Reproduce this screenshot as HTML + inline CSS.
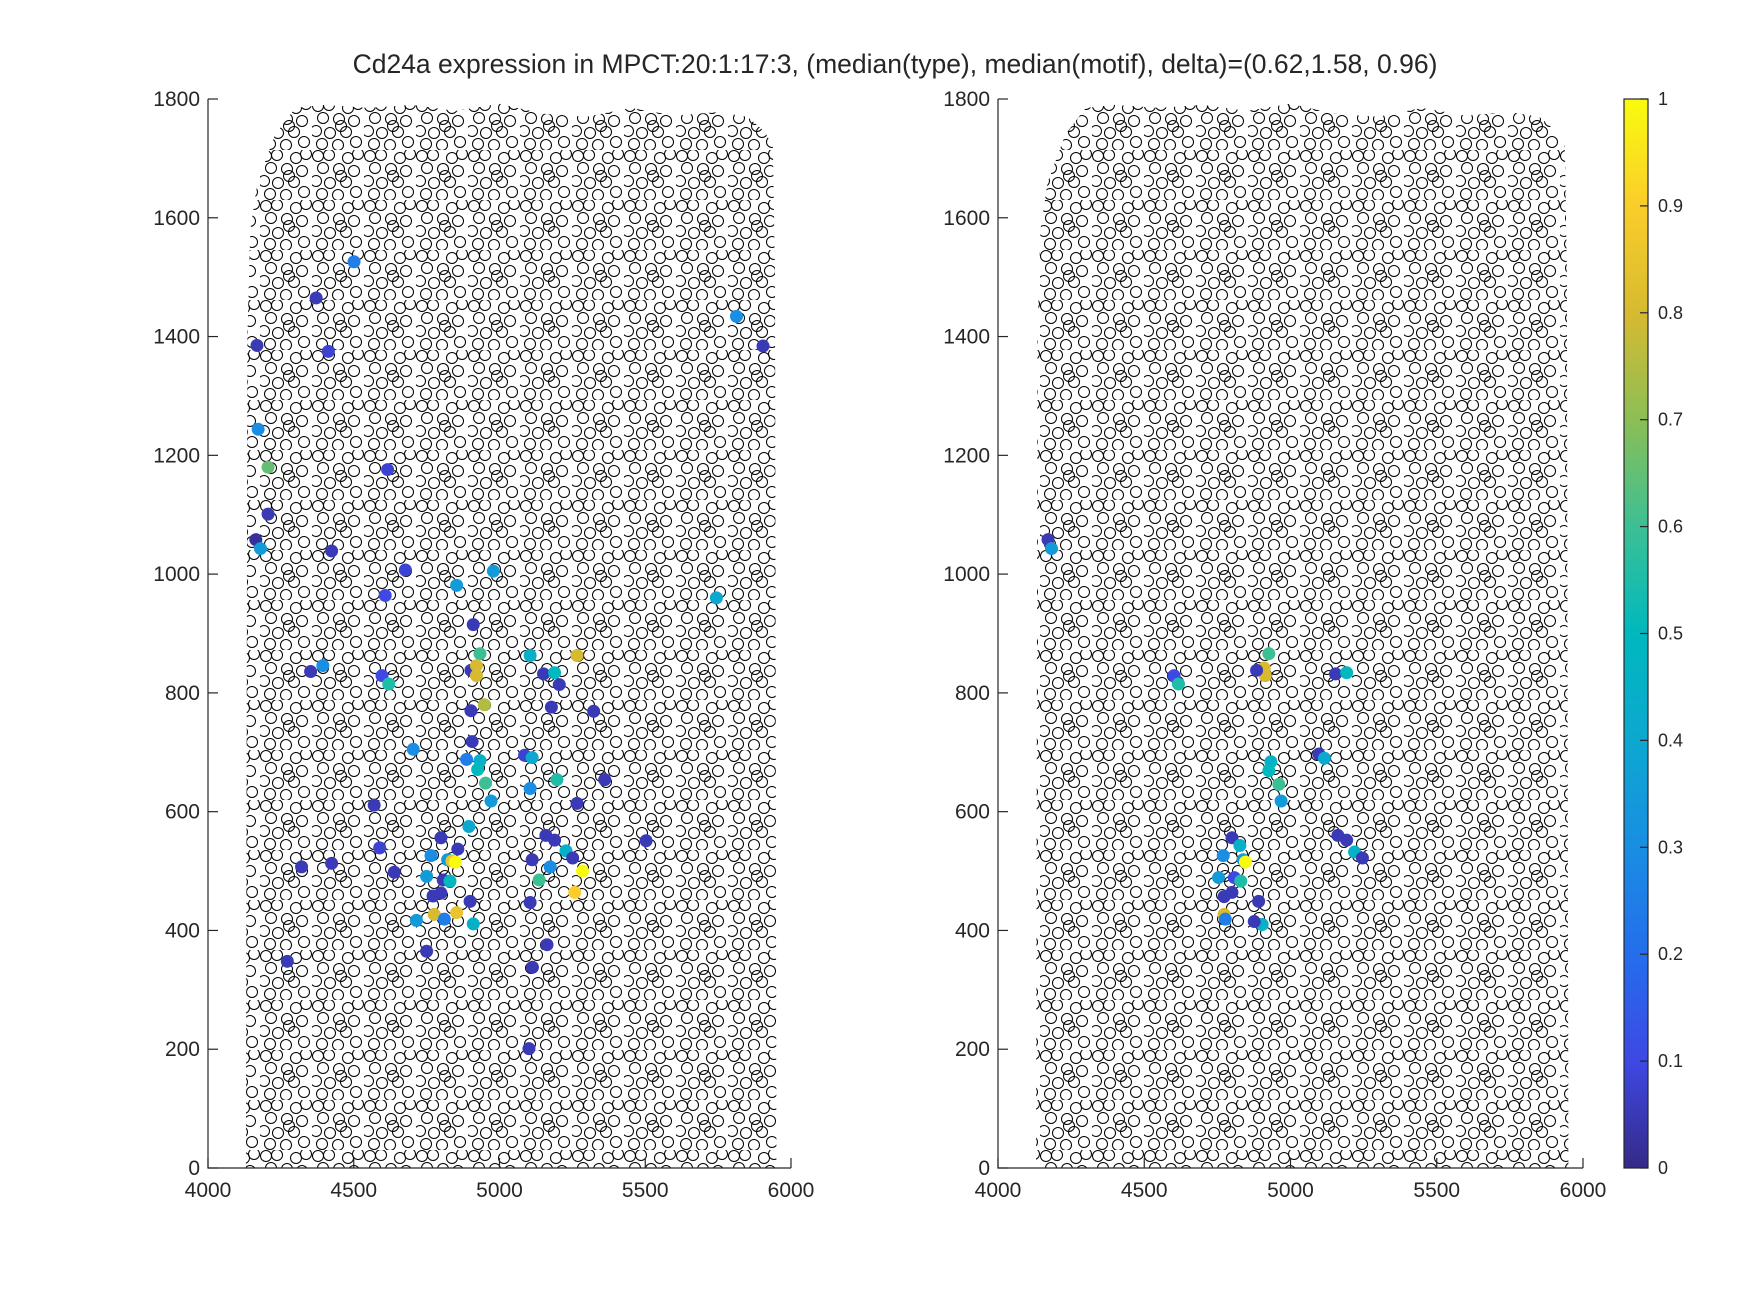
<!DOCTYPE html>
<html><head><meta charset="utf-8"><style>
html,body{margin:0;padding:0;background:#fff;}
svg{display:block;font-family:"Liberation Sans",Arial,sans-serif;}
</style></head><body>
<svg id="fig" width="1750" height="1313" viewBox="0 0 1750 1313">
<defs>
<pattern id="cells" width="52" height="50" patternUnits="userSpaceOnUse">
<g fill="none" stroke="#000" stroke-width="1">
<circle cx="6" cy="6" r="5.5"/><circle cx="17" cy="5" r="5.5"/><circle cx="36" cy="8" r="5.5"/><circle cx="46" cy="4" r="5.5"/>
<circle cx="11" cy="18" r="5.5"/><circle cx="27" cy="19" r="5.5"/><circle cx="42" cy="21" r="5.5"/>
<circle cx="4" cy="31" r="5.5"/><circle cx="18" cy="33" r="5.5"/><circle cx="34" cy="32" r="5.5"/>
<circle cx="10" cy="44" r="5.5"/><circle cx="26" cy="45" r="5.5"/><circle cx="44" cy="42" r="5.5"/><circle cx="29" cy="26" r="5.5"/>
</g>
</pattern>
<linearGradient id="parula" x1="0" y1="1" x2="0" y2="0"></linearGradient>
</defs>
<text x="895" y="73" text-anchor="middle" font-size="26.5" fill="#262626">Cd24a expression in MPCT:20:1:17:3, (median(type), median(motif), delta)=(0.62,1.58, 0.96)</text>
<g id="left"></g>
<g id="right"></g>
<g id="cbar"></g>
</svg>
<script>
const xTicks=[4000,4500,5000,5500,6000];
const yTicks=[0,200,400,600,800,1000,1200,1400,1600,1800];
const cbTicks=[0,0.1,0.2,0.3,0.4,0.5,0.6,0.7,0.8,0.9,1];
const tissueX=[4130,4135,4145,4170,4230,4300,4400,4550,4700,4850,5000,5150,5300,5450,5600,5750,5850,5910,5938,5945,5950,4130];
const tissueY=[0,1400,1580,1660,1740,1785,1790,1785,1790,1780,1792,1775,1770,1785,1772,1778,1770,1745,1720,1500,0,0];
const leftX=[4501,4371,4168,4413,5813,5904,4172,4206,4616,4206,4164,4180,4424,4677,4853,4979,4608,5744,4910,4933,5105,5266,4902,4921,4921,5151,5189,5205,4352,4394,4597,4620,4948,4902,5178,5323,4704,5086,5112,4906,4887,4933,4925,4952,4971,5105,5197,5361,4570,5266,4895,4589,4321,4424,4639,4765,4799,4857,4822,4837,4849,4807,4750,4830,4772,4799,4776,4811,4853,4715,4899,4910,4750,4272,5159,5189,5228,5251,5112,5174,5136,5285,5258,5105,5163,5113,5101,5503];
const leftY=[1526,1465,1385,1375,1434,1384,1244,1180,1176,1101,1058,1043,1039,1007,981,1005,964,960,915,866,863,863,838,846,829,832,834,814,836,846,829,815,780,770,776,769,705,695,691,718,688,686,671,648,618,639,654,654,611,614,575,539,507,513,498,526,556,537,519,517,515,485,491,483,458,463,427,419,430,417,449,411,365,348,560,552,534,522,519,507,485,500,464,447,376,338,201,551];
const leftV=[0.25,0.05,0.05,0.08,0.3,0.05,0.3,0.65,0.08,0.05,0.02,0.35,0.05,0.08,0.35,0.35,0.1,0.4,0.05,0.6,0.45,0.8,0.05,0.8,0.8,0.05,0.5,0.05,0.05,0.3,0.1,0.55,0.75,0.05,0.05,0.05,0.3,0.08,0.4,0.05,0.25,0.45,0.5,0.6,0.35,0.3,0.55,0.05,0.05,0.05,0.4,0.08,0.05,0.05,0.05,0.3,0.05,0.05,0.35,0.85,1.0,0.05,0.35,0.5,0.05,0.05,0.8,0.25,0.85,0.35,0.05,0.45,0.05,0.05,0.05,0.05,0.45,0.05,0.05,0.3,0.6,1.0,0.9,0.05,0.05,0.05,0.05,0.05];
const rightX=[4171,4183,4602,4617,4926,4910,4914,4884,5154,5192,5097,5116,4933,4926,4960,4968,4800,4827,4770,4838,4846,4808,4754,4830,4773,4800,4773,4777,4891,4903,4876,5162,5192,5219,5246];
const rightY=[1058,1043,829,815,866,842,829,838,832,834,697,690,684,669,646,618,556,543,526,519,515,489,489,483,457,464,427,419,449,410,415,560,552,532,522];
const rightV=[0.05,0.35,0.1,0.55,0.6,0.8,0.8,0.05,0.05,0.5,0.05,0.4,0.45,0.5,0.6,0.35,0.05,0.45,0.3,0.35,1.0,0.1,0.35,0.55,0.05,0.05,0.8,0.25,0.05,0.45,0.05,0.05,0.05,0.45,0.05];

const NS='http://www.w3.org/2000/svg';
const stops=[[53,42,135],[62,72,228],[36,110,236],[25,142,226],[12,168,208],[0,184,190],[60,191,148],[140,190,85],[215,186,48],[250,205,42],[249,251,14]];
function parula(v){v=Math.max(0,Math.min(1,v));const f=v*10,i=Math.min(9,Math.floor(f)),t=f-i;const a=stops[i],b=stops[i+1];return 'rgb('+a.map((c,k)=>Math.round(c+(b[k]-c)*t)).join(',')+')';}
function mk(tag,attrs,parent){const e=document.createElementNS(NS,tag);for(const k in attrs)e.setAttribute(k,attrs[k]);parent.appendChild(e);return e;}
const Y0=1168,Y1=99;
function yS(v){return Y0-(v-0)/1800*(Y0-Y1);}

function panel(g,x0,x1,px,py,pv,name){
  const xS=v=>x0+(v-4000)/2000*(x1-x0);
  const pts=tissueX.map((x,i)=>xS(x).toFixed(1)+','+yS(tissueY[i]).toFixed(1)).join(' ');
  const tissue=mk('polygon',{points:pts,fill:'url(#cells)'},g);
  
  
  for(let i=0;i<px.length;i++){
    const c=mk('circle',{cx:xS(px[i]),cy:yS(py[i]),r:6.5,fill:parula(pv[i])},g);
    
    
  }
  const ax=mk('path',{d:`M${x0},${Y1}V${Y0}H${x1}`,fill:'none',stroke:'#262626','stroke-width':1.2},g);
  
  
  xTicks.forEach(t=>{const x=xS(t);
    mk('line',{x1:x,x2:x,y1:Y0,y2:Y0-10,stroke:'#262626','stroke-width':1.2},g);
    const tx=mk('text',{x:x,y:Y0+29,'text-anchor':'middle','font-size':21,fill:'#262626'},g);tx.textContent=t;
    
    
  });
  yTicks.forEach(t=>{const y=yS(t);
    mk('line',{x1:x0,x2:x0+10,y1:y,y2:y,stroke:'#262626','stroke-width':1.2},g);
    const tx=mk('text',{x:x0-8,y:y+7,'text-anchor':'end','font-size':21,fill:'#262626'},g);tx.textContent=t;
    
    
  });
}
panel(document.getElementById('left'),208,791,leftX,leftY,leftV,'left');
panel(document.getElementById('right'),998,1583,rightX,rightY,rightV,'right');

const grad=document.getElementById('parula');
for(let i=0;i<=20;i++){mk('stop',{offset:(i/20),'stop-color':parula(i/20)},grad);}
const cb=document.getElementById('cbar');
const cbX0=1624,cbX1=1648;
const cbS=v=>Y0-v*(Y0-Y1);
const bar=mk('rect',{x:cbX0,y:Y1,width:cbX1-cbX0,height:Y0-Y1,fill:'url(#parula)',stroke:'#262626','stroke-width':1.2},cb);


cbTicks.forEach(t=>{const y=cbS(t);
  mk('line',{x1:cbX1-8,x2:cbX1,y1:y,y2:y,stroke:'#262626','stroke-width':1.2},cb);
  const tx=mk('text',{x:cbX1+10,y:y+6,'font-size':18,fill:'#262626'},cb);tx.textContent=String(t);
  
  
});
</script>
</body></html>
